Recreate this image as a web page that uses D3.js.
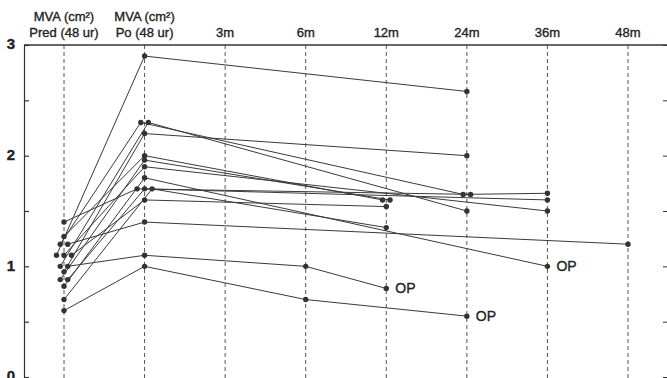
<!DOCTYPE html>
<html>
<head>
<meta charset="utf-8">
<script src="https://cdn.jsdelivr.net/npm/d3@7"></script>
<style>
  body { margin: 0; background: #fff; }
  svg { display: block; font-family: "Liberation Sans", Arial, sans-serif; }
  .lbl { fill: #222; stroke: #222; stroke-width: 0.35px; }
</style>
</head>
<body>
<svg width="667" height="378"></svg>
<script>
// columns along the time axis
var columns = ["Pred", "Po", "3m", "6m", "12m", "24m", "36m", "48m"];
var headTop = ["MVA (cm\u00b2)", "MVA (cm\u00b2)", "", "", "", "", "", ""];
var headBottom = ["Pred (48 ur)", "Po (48 ur)", "3m", "6m", "12m", "24m", "36m", "48m"];
var yTicks = [0, 0.5, 1, 1.5, 2, 2.5, 3];

// MVA before and after (one entry per patient)
var predValues = [1.1, 1.2, 1.0, 0.95, 1.27, 0.88, 1.1, 0.82, 1.4, 0.88, 0.7, 1.1, 1.2, 1.0, 0.6];
var poValues   = [2.9, 2.3, 2.3, 2.2, 2.0, 1.96, 1.9, 1.8, 1.7, 1.7, 1.7, 1.6, 1.4, 1.1, 1.0];

// follow-up measurements per patient: [column, value]
var followUps = [
  [["24m", 2.58]],
  [["24m", 1.65], ["36m", 1.66]],
  [["24m", 1.5]],
  [["24m", 2.0]],
  [["12m", 1.6]],
  [["12m", 1.6]],
  [["36m", 1.5]],
  [["36m", 1.0]],
  [["24m", 1.65]],
  [["36m", 1.6]],
  [["12m", 1.35]],
  [["12m", 1.54]],
  [["48m", 1.2]],
  [["6m", 1.0], ["12m", 0.8]],
  [["6m", 0.7], ["24m", 0.55]]
];
// operated (OP) at last follow-up
var operated = [false, false, false, false, false, false, false, true, false, false, false, false, false, true, true];

var svg = d3.select("svg");

var x = d3.scalePoint().domain(columns).range([64, 628]);
var y = d3.scaleLinear().domain([0, 3]).range([377, 45]);

// build paths
var patients = predValues.map(function(p, i) {
  var pts = [{col: "Pred", v: p}, {col: "Po", v: poValues[i]}];
  followUps[i].forEach(function(f) { pts.push({col: f[0], v: f[1]}); });
  return {pts: pts, op: operated[i]};
});

// spread overlapping dots sideways
var groups = {};
patients.forEach(function(p) {
  p.pts.forEach(function(d) {
    var key = d.col + "_" + d.v;
    (groups[key] = groups[key] || []).push(d);
  });
});
Object.keys(groups).forEach(function(k) {
  var g = groups[k], n = g.length;
  g.forEach(function(d, i) { d.dx = (i - (n - 1) / 2) * 7.5; });
});

// dashed column lines
svg.selectAll(".col")
  .data(columns)
  .enter().append("line")
  .attr("x1", function(d) { return x(d); })
  .attr("x2", function(d) { return x(d); })
  .attr("y1", y(3))
  .attr("y2", 378)
  .attr("stroke", "#555")
  .attr("stroke-width", 1)
  .attr("stroke-dasharray", "4,3");

// left axis
var yAxis = d3.axisLeft(y)
  .tickValues(yTicks)
  .tickSizeInner(-5)
  .tickSizeOuter(0)
  .tickPadding(9)
  .tickFormat(function(d) { return d % 1 === 0 ? d : ""; });

var ax = svg.append("g")
  .attr("transform", "translate(24,0)")
  .call(yAxis);
ax.select(".domain").attr("stroke", "#333").attr("stroke-width", 1.2);
ax.selectAll("line").attr("stroke", "#333").attr("stroke-width", 1.2);
ax.selectAll("text")
  .attr("class", "lbl")
  .attr("dy", "0.25em")
  .style("font-size", "15px")
  .style("font-weight", "bold");

// right axis ticks
var ax2 = svg.append("g")
  .attr("transform", "translate(668,0)")
  .call(d3.axisRight(y).tickValues(yTicks).tickSizeInner(-5).tickSizeOuter(0).tickFormat(""));
ax2.selectAll("line").attr("stroke", "#333");

// top border
svg.append("line")
  .attr("x1", 24).attr("x2", 667)
  .attr("y1", y(3)).attr("y2", y(3))
  .attr("stroke", "#333")
  .attr("stroke-width", 1.6);

// headers
svg.selectAll(".h1")
  .data(columns)
  .enter().append("text")
  .attr("class", "lbl")
  .attr("x", function(d) { return x(d); })
  .attr("y", 21)
  .attr("text-anchor", "middle")
  .style("font-size", "13px")
  .text(function(d, i) { return headTop[i]; });

svg.selectAll(".h2")
  .data(columns)
  .enter().append("text")
  .attr("class", "lbl")
  .attr("x", function(d) { return x(d); })
  .attr("y", 37)
  .attr("text-anchor", "middle")
  .style("font-size", "13px")
  .text(function(d, i) { return headBottom[i]; });

// patient lines
var line = d3.line()
  .x(function(d) { return x(d.col) + d.dx; })
  .y(function(d) { return y(d.v); });

var pg = svg.selectAll(".patient")
  .data(patients)
  .enter().append("g")
  .attr("class", "patient");

pg.append("path")
  .attr("d", function(d) { return line(d.pts); })
  .attr("fill", "none")
  .attr("stroke", "#3a3a3a")
  .attr("stroke-width", 1);

pg.selectAll("circle")
  .data(function(d) { return d.pts; })
  .enter().append("circle")
  .attr("cx", function(d) { return x(d.col) + d.dx; })
  .attr("cy", function(d) { return y(d.v); })
  .attr("r", 2.7)
  .attr("fill", "#333");

// OP labels
pg.filter(function(d) { return d.op; })
  .append("text")
  .attr("class", "lbl")
  .attr("x", function(d) { var p = d.pts[d.pts.length - 1]; return x(p.col) + p.dx + 9; })
  .attr("y", function(d) { return y(d.pts[d.pts.length - 1].v); })
  .attr("dy", "0.35em")
  .style("font-size", "14px")
  .text("OP");
</script>
</body>
</html>
